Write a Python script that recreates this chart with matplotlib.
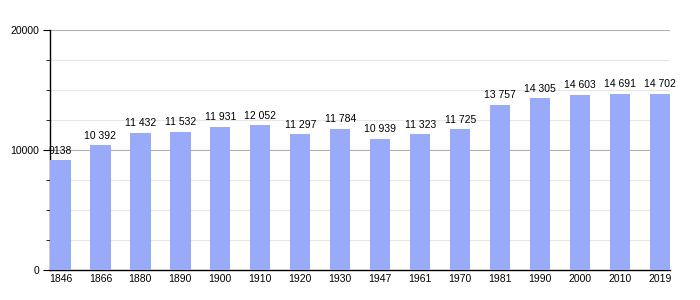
import numpy as np
from matplotlib import pyplot as plt
from matplotlib.ticker import MultipleLocator

plt.rcParams['font.family'] = ['Liberation Sans', 'DejaVu Sans']

# population by census year
years = ["1846", "1866", "1880", "1890", "1900", "1910", "1920", "1930", "1947",
         "1961", "1970", "1981", "1990", "2000", "2010", "2019"]
population = [9138, 10392, 11432, 11532, 11931, 12052, 11297, 11784, 10939,
              11323, 11725, 13757, 14305, 14603, 14691, 14702]


def fmt(v):
    s = str(v)
    if len(s) > 4:
        s = s[:-3] + " " + s[-3:]
    return s


fig = plt.figure(figsize=(7, 3), dpi=100)
ax = fig.add_axes([50/700, 30/300, 620/700, 240/300])

x = np.arange(len(years))
ax.bar(x, population, width=0.51, color="#99abf8", zorder=3)
for xi, v in zip(x, population):
    ax.text(xi, v + 380, fmt(v), ha="center", va="bottom", fontsize=7.5, zorder=4)

ax.set_xlim(-0.26, len(years) - 0.75)
ax.set_ylim(0, 20000)
ax.set_xticks(x)
ax.set_xticklabels(years, fontsize=7.5)
ax.tick_params(axis="x", length=0, pad=3)
ax.yaxis.set_major_locator(MultipleLocator(10000))
ax.yaxis.set_minor_locator(MultipleLocator(2500))
ax.tick_params(axis="y", which="major", length=5, labelsize=7.5, pad=3)
ax.tick_params(axis="y", which="minor", length=3)
ax.grid(True, axis="y", which="major", color="#b0b0b0", linewidth=0.8, zorder=1)
ax.grid(True, axis="y", which="minor", color="#e6e6e6", linewidth=0.8, zorder=1)
for s in ["top", "right"]:
    ax.spines[s].set_visible(False)
ax.spines["left"].set_linewidth(1)
ax.spines["bottom"].set_linewidth(1)

plt.savefig("out.png", dpi=100)
